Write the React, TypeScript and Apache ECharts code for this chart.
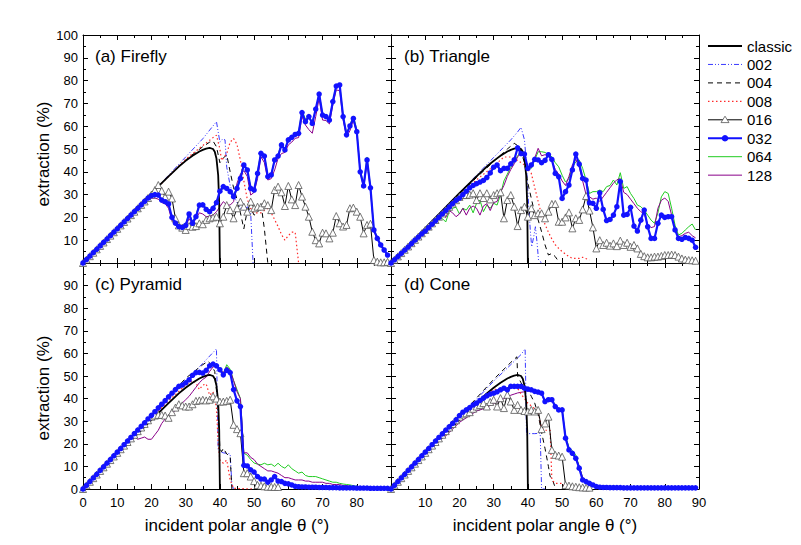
import React, { useEffect, useRef } from "react";
import * as echarts from "echarts";

const SERIES_NAMES = ["classic", "002", "004", "008", "016", "032", "064", "128"];
const DRAW_ORDER = ["064", "128", "002", "004", "008", "016", "classic", "032"];
const PANEL_TITLES = ["(a) Firefly", "(b) Triangle", "(c) Pyramid", "(d) Cone"];
const X_TITLE = "incident polar angle θ (°)";
const Y_TITLE = "extraction (%)";

// 1° sampling grid of the dense (per-degree) series
const DEG = Array.from({ length: 90 }, (_, i) => i);

// classic curve (same in every panel)
const CLASSIC_X = [0, 5, 10, 15, 20, 25, 28, 30, 32, 34, 35, 36, 37, 38, 38.5, 39, 39.5, 39.8, 40];
const CLASSIC_Y = [0, 7.6, 15.3, 23, 30.6, 38, 42.3, 44.8, 47, 48.9, 49.6, 50.2, 50.5, 50, 48.8, 45.8, 38.5, 26, 0];

// ---------- (a) Firefly ----------
const A_002_X = [0, 10, 20, 25, 30, 35, 39, 40, 40.8, 41.5, 42, 43, 44, 45, 46, 47, 48, 49, 49.7];
const A_002_Y = [0, 15.5, 30.5, 38.5, 46.5, 54.5, 62, 53, 54.4, 54, 42, 34, 30, 26.5, 24, 23.2, 24.7, 21.8, 0];
const A_004_X = [0, 10, 20, 25, 30, 35, 37, 38, 39, 40, 41, 42, 43, 44, 45, 46, 47, 48, 49, 50, 51, 52, 53, 54];
const A_004_Y = [0, 15.2, 30.5, 38, 45.2, 51, 53, 53.5, 51, 44, 46, 47.5, 40, 33, 28, 22, 15, 23, 24, 21, 22, 26, 15, 0];
const A_008_X = [0, 10, 20, 25, 30, 35, 38, 39, 40, 40.5, 42, 43, 44, 45, 46, 47, 48, 49, 50, 52, 54, 55, 56, 57, 58, 59, 60, 61, 62, 63];
const A_008_Y = [0, 15.2, 30.5, 38, 45.5, 51.5, 55, 56, 50, 45, 48, 53, 54.6, 52, 45, 36, 28, 24, 22, 22, 24, 22, 19, 16, 12.5, 10, 12, 13.5, 13.5, 0];
const A_016 = [
  0, 1.5, 3, 4.5, 6, 7.5, 9, 10.5, 12, 13.5,
  15, 16.5, 18, 19.5, 21, 22.5, 24, 25.5, 27, 28.5,
  30, 32, 34.2, 31.7, 29, 31.3, 28.3, 19.6, 16.5, 15.5,
  14.5, 16.2, 15.9, 16.2, 17.4, 17, 18.9, 19.6, 20, 20.3,
  17.4, 20.3, 25.4, 23.2, 19.6, 24, 26.9, 24.7, 22.5, 26.9,
  24, 24.7, 24.7, 26.2, 25.4, 23.2, 32, 33.5, 31, 25,
  33.8, 27.9, 25.4, 34.2, 29.1, 24.7, 20.3, 13.7, 10, 8.6,
  13.3, 13, 10.8, 13.3, 20.6, 17.4, 16, 16.7, 24, 24.3,
  22.5, 20.3, 13, 16.7, 17.2, 1.3, 0.6, 0.3, 0.3, 0.5,
];
const A_032 = [
  0, 1.5, 3, 4.5, 6, 7.5, 9, 10.5, 12, 13.5,
  15, 16.5, 18, 19.5, 21, 22.5, 24, 25.5, 27, 28.5,
  29.5, 30, 29.8, 27.6, 26.9, 25.9, 20, 17.5, 16, 15.6,
  16.5, 21.5, 17.4, 20.3, 25.4, 25.5, 23.5, 22.5, 24, 26.5,
  31.5, 33.5, 32.7, 31.3, 29.1, 32.7, 37.1, 43, 40.8, 32.7,
  32, 39.3, 48.1, 46.9, 37.9, 38.6, 45.2, 46.9, 51.8, 49.6,
  54, 55.1, 56.4, 56.9, 66, 62, 64.2, 61.2, 67.5, 74.1,
  64.9, 64.2, 62.7, 70.8, 77.6, 78.1, 64.2, 56.2, 60.1, 63.4,
  57.6, 40, 33.8, 45.2, 33, 14.5, 10.8, 7.9, 5.7, 3.5,
];
const A_064 = [
  0, 1.5, 3, 4.5, 6, 7.5, 9, 10.5, 12, 13.5,
  15, 16.5, 18, 19.5, 21, 22.5, 24, 25.5, 27, 28.5,
  29.5, 29.8, 29.5, 27, 27.5, 25.5, 19.5, 17, 16.2, 16,
  17, 22, 18, 21, 26, 26, 24, 23, 24.5, 27,
  31, 33, 33, 31.5, 29.5, 33.5, 38, 43.5, 41, 33,
  32.5, 40, 48.8, 47.5, 38.5, 39, 45.5, 47.5, 52.5, 50,
  54.5, 55.5, 56.5, 57.5, 67, 63, 64.5, 62, 67, 74.5,
  65.5, 65, 63.5, 71, 78, 78.5, 65, 57, 60.5, 64.5,
  58.5, 41, 34.5, 46.5, 33.5, 15, 11, 8, 6, 3.8,
];
const A_128 = [
  0, 1.5, 3, 4.5, 6, 7.5, 9, 10.5, 12, 13.5,
  15, 16.5, 18, 19.5, 21, 22.5, 24, 25.5, 27, 28,
  28.5, 28.5, 28, 26.5, 26, 24, 18.5, 16.5, 15.5, 15,
  16, 19.5, 17, 19.5, 22, 21.5, 20.3, 20.5, 21, 22.5,
  24.7, 26.9, 25.5, 25.4, 26.9, 35, 39, 40.5, 38, 29.8,
  31, 37, 46.6, 44, 36.4, 37, 40.8, 45.9, 48, 48.5,
  51.8, 53, 54.7, 55, 64.2, 60.5, 58.5, 56.9, 64.2, 72.2,
  62.7, 62.5, 61, 69.3, 75.9, 75.6, 63, 55.4, 58, 62.7,
  56.9, 40, 33, 44, 32, 14, 10.5, 7.5, 5.5, 3.3,
];

// ---------- (b) Triangle ----------
const B_002_X = [0, 10, 20, 25, 30, 35, 37, 38, 39, 39.5, 40.2, 40.7, 41.1, 41.7, 42.2, 42.7, 43.1, 44];
const B_002_Y = [0, 15.5, 30.8, 38.5, 46.3, 54, 57.5, 59.5, 54, 45, 26, 14.5, 7.1, 11.5, 15.9, 8.6, 1.3, 0];
const B_004_X = [0, 10, 20, 25, 30, 34, 36, 37, 38, 39, 40, 41, 42, 43, 44, 45, 46, 47, 48, 49];
const B_004_Y = [0, 15.2, 30.3, 37.5, 44.5, 50, 52.5, 51.5, 49, 44, 35, 28.3, 21.8, 18.9, 13.7, 8, 3.5, 4.2, 2.8, 0.6];
const B_008_X = [0, 10, 20, 25, 30, 33, 35, 37, 39, 40, 41, 42, 43, 44, 45, 46, 47, 48, 49, 50, 52, 53, 55, 56, 58];
const B_008_Y = [0, 14.8, 29.5, 36.5, 42.5, 46.5, 46.5, 45, 43, 41, 39.3, 33, 27, 21, 17, 13.5, 10.5, 8, 6.4, 5, 2.8, 2, 2, 2.5, 1.3];
const B_016 = [
  0, 1.45, 2.9, 4.35, 5.8, 7.25, 8.7, 10.15, 11.6, 13.05,
  14.5, 15.95, 17.4, 18.85, 20.3, 21.75, 23.2, 24.65, 26.1, 27.55,
  29, 29.8, 29.8, 30, 30.6, 27.6, 30.6, 28.5, 30.6, 27.9,
  29.8, 30.6, 31, 19.6, 27.6, 29.8, 24.7, 16.2, 23.2, 24.7,
  20.3, 24, 21, 21.8, 21.8, 19.6, 22.5, 25.9, 25.9, 18.1,
  18.1, 20, 22.2, 15.2, 19.6, 18.9, 23.5, 29.4, 23, 15.6,
  6.4, 10, 7.9, 8.9, 7.6, 8.6, 7.4, 9.8, 7.9, 8.9,
  7.1, 7.9, 6.4, 4, 3, 2.5, 2.5, 2.8, 2.8, 3.1,
  3.5, 3.5, 3.7, 3.5, 2.8, 2, 1.5, 1.3, 1.2, 1,
];
const B_032 = [
  0, 1.4, 2.8, 4.2, 5.6, 7, 8.5, 10, 11.4, 12.8,
  14, 15.5, 17, 18.5, 20, 21.5, 23, 24.5, 26, 27.5,
  28.5, 30, 31.5, 33, 34, 34.8, 35.5, 36.2, 37.5, 39.5,
  42, 43, 40.5, 41.5, 41.5, 43.5, 45.2, 50.5, 48, 47.8,
  41.5, 43, 45.5, 45.2, 44, 45, 47.5, 45.4, 39.3, 37.8,
  28.3, 31.3, 34.2, 40.8, 47.8, 43.4, 37.1, 36.4, 26.4, 26.2,
  24, 30.8, 23.5, 18.6, 19.1, 21, 24.7, 35.7, 21, 21.3,
  24.4, 16.2, 14, 18.8, 23.2, 15.9, 10.8, 10.8, 17.4, 21,
  20, 20.3, 20.3, 14.5, 10.8, 10.4, 11.2, 10.8, 10, 6.9,
];
const B_064 = [
  0, 1.4, 2.8, 4.2, 5.6, 7, 8.5, 10, 11.4, 12.8,
  14, 15.5, 17, 18.5, 20, 19.5, 18, 22.5, 24, 24.5,
  21.5, 24, 23.2, 25.4, 22, 26.2, 27.6, 22.5, 25.4, 24,
  26.2, 25.4, 30, 36, 39, 42, 44.4, 47, 48.8, 46.6,
  42.2, 41.5, 45.2, 48.8, 48.8, 48.5, 47.5, 46.6, 44, 42.2,
  38.5, 35.5, 37, 42, 44.4, 45.2, 41.5, 36.4, 30.5, 31.3,
  31.3, 32, 31.3, 33.5, 34, 36.4, 34.2, 39.6, 32.7, 33.5,
  30.5, 28.3, 25.4, 24.7, 23.2, 21, 18.8, 17.4, 22, 29,
  31.3, 30.5, 24, 16.6, 12.3, 13, 14.5, 15.9, 17.1, 14.5,
];
const B_128 = [
  0, 1.4, 2.8, 4.2, 5.6, 7, 8.5, 10, 11.4, 12.8,
  14, 15.5, 17, 18.5, 20, 21, 20, 23, 22, 20.3,
  21.5, 24, 21, 24, 25, 24, 21, 25, 26, 23,
  26.5, 27, 31, 34, 38, 41, 43.5, 46.5, 48.5, 47,
  42, 42, 46, 50.3, 47, 47.5, 47, 45, 41, 39,
  36, 34, 38, 43, 45.5, 42, 36, 30, 29, 28,
  28.5, 27, 29, 31, 33, 35, 36.5, 37, 31, 30,
  28, 26, 24, 22.5, 21.5, 17, 15.5, 16, 24, 27.5,
  28.5, 27, 21, 15, 11.5, 12, 13, 13.5, 12, 11,
];

// ---------- (c) Pyramid ----------
const C_002_X = [0, 10, 20, 30, 35, 39, 39.5, 40, 41, 42, 43, 43.5, 44];
const C_002_Y = [0, 15.9, 31.8, 47.7, 55.6, 62, 17, 16.5, 16, 15.8, 15.5, 2, 0];
const C_004_X = [0, 10, 20, 30, 35, 36.5, 37.5, 38.5, 39.5, 40, 40.5, 41, 42, 42.5, 43, 43.5];
const C_004_Y = [0, 16, 32.5, 49, 55, 56.5, 55, 52, 35, 18, 16.5, 18, 15.5, 15, 14.5, 0];
const C_008_X = [0, 10, 20, 25, 30, 32, 33, 34, 35, 36, 37, 38, 39, 39.5, 40, 41, 42, 43, 44, 50];
const C_008_Y = [0, 15.5, 31.5, 39, 46, 48, 47, 44, 46, 46.5, 41.5, 43, 36, 20, 12.8, 11.4, 12.8, 4, 0.3, 0];
const C_016 = [
  0, 1.6, 3.2, 4.8, 6.4, 8, 9.6, 11.2, 12.8, 14.4,
  16, 17.6, 19.2, 20.8, 22.4, 24, 25.6, 27.2, 28.8, 30.4,
  32, 32.5, 32.8, 32.8, 32.5, 31.5, 34, 36, 37.5, 37,
  36.5, 36.5, 37.5, 39, 39.2, 39.5, 39.2, 39.5, 41, 40,
  38.7, 38.7, 39, 39.5, 28.4, 26.5, 24.7, 7, 7, 5.5,
  3.5, 1.8, 1.5, 1.2, 1, 1, 0.9, 0.9,
];
const C_032 = [
  0, 1.6, 3.3, 4.9, 6.5, 8.2, 9.8, 11.4, 13, 14.7,
  16.3, 17.9, 19.6, 21.2, 22.8, 24.5, 26.1, 27.7, 29.3, 31,
  32.6, 34.2, 35.9, 37.5, 39.1, 40.8, 42.4, 44, 45.4, 46,
  47, 48.3, 50.3, 51.5, 51.6, 51.3, 52.5, 54.5, 55.3, 54.5,
  52.8, 50.5, 52.5, 51.5, 44, 39, 36.5, 10.5, 10.2, 8.5,
  7.5, 5.5, 4.4, 4.4, 3, 4, 5.5, 3.5, 3.3, 2.5,
  2.3, 1.8, 1.2, 1, 0.9, 0.9, 0.8, 0.8, 0.8, 0.7,
  0.7, 0.7, 0.6, 0.6, 0.6, 0.5, 0.5, 0.5, 0.5, 0.5,
  0.4, 0.4, 0.4, 0.4, 0.3, 0.3, 0.3, 0.3, 0.3, 0.3,
];
const C_064 = [
  0, 1.6, 3.3, 4.9, 6.5, 8.2, 9.8, 11.4, 13, 14.7,
  16.3, 17.9, 19.6, 21.2, 22.8, 24.5, 26.1, 27.7, 29.3, 31,
  32.6, 34.2, 35.9, 37.5, 39.1, 40.8, 42.4, 44, 45.5, 46.5,
  47.5, 49, 50.5, 51.5, 51.5, 51.5, 53, 54, 55, 54.5,
  53, 51, 55, 53, 48, 44, 40, 15.8, 15, 13,
  11.5, 11, 10.7, 11.4, 10.7, 11, 10, 11.4, 10, 9.2,
  10.7, 9, 8, 7, 7.5, 6, 5.5, 5.5, 5.5, 5,
  4.5, 4, 3.5, 3, 3, 2.5, 2.2, 2, 1.8, 1.5,
  1.2, 1, 1, 0.9, 0.8, 0.7, 0.6, 0.6, 0.5, 0.5,
];
const C_128 = [
  0, 1.6, 3.3, 4.9, 6.5, 8.2, 9.8, 11.4, 13, 14.7,
  16.3, 17.5, 19, 20.5, 22, 23, 22, 22.5, 23, 22,
  22, 24, 26, 29, 31, 32.5, 33, 35, 36.5, 38,
  39.5, 41, 43, 45, 47, 48.5, 49.5, 52, 54, 54.5,
  53, 51.5, 54, 52.5, 48, 43, 40, 16, 16, 14,
  13, 11, 10, 9, 8, 8, 7.5, 7, 6, 5,
  5, 4.5, 4, 4, 4, 3.5, 3.5, 3, 3, 3,
  3, 2.5, 2.5, 2, 2, 2, 1.5, 1.5, 1.2, 1,
  1, 0.9, 0.8, 0.7, 0.6, 0.6, 0.5, 0.5, 0.5, 0.5,
];

// ---------- (d) Cone ----------
const D_002_X = [0, 10, 20, 30, 35, 38, 39.2, 39.6, 40, 42, 43.6, 44, 45];
const D_002_Y = [0, 15.9, 31.8, 47.7, 55, 59.5, 62, 24, 24.5, 24.5, 24.7, 0, 0];
const D_004_X = [0, 10, 20, 30, 35, 36.8, 37, 38, 39, 40, 41, 42, 43, 44, 45, 46, 46.5, 47, 48];
const D_004_Y = [0, 16, 32, 48.5, 56, 58.5, 50, 47, 45, 43.9, 41, 38, 33, 25, 18, 10, 5.5, 5, 0.5];
const D_008_X = [0, 10, 20, 25, 30, 35, 37, 38, 40, 42, 43, 44, 45, 46.5, 47, 48, 50, 51];
const D_008_Y = [0, 15.5, 30.5, 38, 44, 45, 44.6, 42, 38, 35.5, 34.3, 27, 26, 26, 4, 2.5, 2.5, 0.3];
const D_016 = [
  0, 1.6, 3.2, 4.8, 6.4, 8, 9.6, 11.2, 12.8, 14.4,
  16, 17.6, 19.2, 20.8, 22.4, 24, 25.6, 27.2, 28.8, 30.4,
  32, 33, 33.5, 34, 35.5, 36.5, 37.2, 38, 36.5, 38.5,
  39.5, 36.5, 40.2, 35.8, 41.7, 38.7, 35, 37.2, 35, 34.5,
  34.3, 35, 34.3, 35, 26.5, 29, 32, 17.3, 15.1, 14.8,
  14.3, 1.8, 1.5, 1.2, 1, 0.8, 0.7, 0.6, 0.6,
];
const D_032 = [
  0, 1.6, 3.3, 4.9, 6.5, 8.2, 9.8, 11.4, 13, 14.7,
  16.3, 17.9, 19.6, 21.2, 22.8, 24.4, 26, 27.5, 29, 30.6,
  32.5, 34, 35, 36, 37.2, 38, 39.2, 40.2, 41.2, 42,
  42.4, 43, 43.9, 44.6, 43.9, 45.4, 45.4, 45.4, 45.4, 44.6,
  44.2, 43.9, 43.2, 42.9, 42.4, 38.7, 39.5, 39.5, 36.5, 35,
  35, 22.5, 17.3, 15.8, 13.6, 9.2, 4, 3.3, 2.5, 1.8,
  1.1, 0.8, 0.7, 0.7, 0.6, 0.6, 0.6, 0.6, 0.5, 0.5,
  0.5, 0.5, 0.5, 0.5, 0.5, 0.5, 0.5, 0.5, 0.5, 0.5,
  0.5, 0.5, 0.5, 0.5, 0.5, 0.5, 0.5, 0.5, 0.5, 0.5,
];
const D_064 = [
  0, 1.6, 3.3, 4.9, 6.5, 8.2, 9.8, 11.4, 13, 14.7,
  16.3, 17.9, 19.6, 21.2, 22.8, 24.4, 26, 27.5, 29, 30.6,
  32.5, 34, 35, 36, 37.2, 38, 39.2, 40.2, 41.2, 42,
  42.6, 43.2, 44, 44.6, 44.5, 45.4, 45.5, 45.5, 45.5, 45,
  44.5, 44, 43.5, 43, 42.5, 39, 39.8, 39.8, 37, 35.5,
  35.3, 23.5, 18.5, 17, 15, 10, 5, 3.8, 3, 2.2,
  1.6, 1.2, 1, 1, 1.2, 1.3, 1.1, 1, 0.9, 0.9,
  0.8, 0.8, 0.8, 0.8, 0.7, 0.7, 0.7, 0.7, 0.7, 0.6,
  0.6, 0.6, 0.6, 0.6, 0.6, 0.6, 0.5, 0.5, 0.5, 0.5,
];
const D_128 = [
  0, 1.6, 3.2, 4.8, 6.4, 8, 9.5, 11, 12.5, 14,
  15.5, 17, 18.5, 19.5, 21, 22.5, 23.5, 25, 26.5, 28,
  29.5, 30.5, 31.5, 32.5, 33.5, 34.5, 35, 35.5, 36, 37,
  37.8, 38.5, 39.2, 40, 40.5, 41.5, 42, 42.5, 42.8, 43,
  43.5, 43.2, 43, 42.5, 42, 38.5, 39.3, 39.3, 36.5, 35,
  34.8, 22.5, 18, 16, 14, 10, 5, 4, 3, 2,
  1.5, 1, 0.8, 0.7, 0.7, 0.6, 0.6, 0.6, 0.5, 0.5,
  0.5, 0.5, 0.5, 0.5, 0.5, 0.5, 0.5, 0.5, 0.5, 0.5,
  0.5, 0.5, 0.5, 0.5, 0.5, 0.5, 0.5, 0.5, 0.5, 0.5,
];

type XY = [number[], number[]];
const PANEL_DATA: Record<string, XY>[] = [
  {
    classic: [CLASSIC_X, CLASSIC_Y], "002": [A_002_X, A_002_Y], "004": [A_004_X, A_004_Y],
    "008": [A_008_X, A_008_Y], "016": [DEG, A_016], "032": [DEG, A_032], "064": [DEG, A_064], "128": [DEG, A_128],
  },
  {
    classic: [CLASSIC_X, CLASSIC_Y], "002": [B_002_X, B_002_Y], "004": [B_004_X, B_004_Y],
    "008": [B_008_X, B_008_Y], "016": [DEG, B_016], "032": [DEG, B_032], "064": [DEG, B_064], "128": [DEG, B_128],
  },
  {
    classic: [CLASSIC_X, CLASSIC_Y], "002": [C_002_X, C_002_Y], "004": [C_004_X, C_004_Y],
    "008": [C_008_X, C_008_Y], "016": [DEG, C_016], "032": [DEG, C_032], "064": [DEG, C_064], "128": [DEG, C_128],
  },
  {
    classic: [CLASSIC_X, CLASSIC_Y], "002": [D_002_X, D_002_Y], "004": [D_004_X, D_004_Y],
    "008": [D_008_X, D_008_Y], "016": [DEG, D_016], "032": [DEG, D_032], "064": [DEG, D_064], "128": [DEG, D_128],
  },
];

const FONT = "'Liberation Sans', Arial, sans-serif";

const STYLES: Record<string, any> = {
  classic: { line: "#000000", width: 1.8, type: "solid" },
  "002": { line: "#3a3aff", width: 1, type: [5, 2, 1, 2, 1, 2] },
  "004": { line: "#000000", width: 1, type: [5, 4] },
  "008": { line: "#ff2a2a", width: 1.2, type: [1.5, 2.5] },
  "016": { line: "#000000", width: 1, type: "solid", symbol: "triangle", size: 7, fill: "#ffffff", border: "#555555" },
  "032": { line: "#1212ff", width: 2.2, type: "solid", symbol: "circle", size: 5.5, fill: "#1212ff", border: "#1212ff" },
  "064": { line: "#22cc22", width: 1, type: "solid" },
  "128": { line: "#8a008a", width: 1, type: "solid" },
};

const GRIDS = [
  { left: 83, top: 35, width: 308, height: 228 },
  { left: 391, top: 35, width: 308, height: 228 },
  { left: 83, top: 263, width: 308, height: 226 },
  { left: 391, top: 263, width: 308, height: 226 },
];

function buildOption() {
  const xAxis: any[] = [];
  const yAxis: any[] = [];
  const axisLine = { show: true, onZero: false, lineStyle: { color: "#000", width: 1 } };
  const tick = { show: true, inside: true, length: 5, lineStyle: { color: "#000" } };
  const minor = { show: true, splitNumber: 2, length: 3, lineStyle: { color: "#000" } };
  GRIDS.forEach((_, i) => {
    const bottomRow = i >= 2;
    const leftCol = i % 2 === 0;
    xAxis.push({
      type: "value", gridIndex: i, min: 0, max: 90, interval: 10, position: "bottom",
      axisLine, axisTick: tick, minorTick: minor, splitLine: { show: false },
      axisLabel: {
        show: bottomRow, color: "#000", fontSize: 13, fontFamily: FONT, margin: 7,
        showMinLabel: i === 3 ? false : true, showMaxLabel: i === 2 ? false : true,
      },
    });
    xAxis.push({
      type: "value", gridIndex: i, min: 0, max: 90, interval: 10, position: "top",
      axisLine, axisTick: tick, minorTick: minor, splitLine: { show: false }, axisLabel: { show: false },
    });
    yAxis.push({
      type: "value", gridIndex: i, min: 0, max: 100, interval: 10, position: "left",
      axisLine, axisTick: tick, minorTick: minor, splitLine: { show: false },
      axisLabel: {
        show: leftCol, color: "#000", fontSize: 13, fontFamily: FONT, margin: 5,
        showMinLabel: i === 0 ? false : true, showMaxLabel: i === 2 ? false : true,
      },
    });
    yAxis.push({
      type: "value", gridIndex: i, min: 0, max: 100, interval: 10, position: "right",
      axisLine, axisTick: tick, minorTick: minor, splitLine: { show: false }, axisLabel: { show: false },
    });
  });

  const series: any[] = [];
  PANEL_DATA.forEach((panel, p) => {
    DRAW_ORDER.forEach((name) => {
      const st = STYLES[name];
      const [xs, ys] = panel[name];
      series.push({
        type: "line",
        name,
        xAxisIndex: p * 2,
        yAxisIndex: p * 2,
        data: ys.map((y, k) => [xs[k], y]),
        symbol: st.symbol || "none",
        showSymbol: !!st.symbol,
        symbolSize: st.size || 0,
        lineStyle: { color: st.line, width: st.width, type: st.type },
        itemStyle: st.symbol
          ? { color: st.fill, borderColor: st.border, borderWidth: name === "016" ? 0.8 : 0 }
          : { color: st.line },
        emphasis: { disabled: true },
        silent: true,
        clip: true,
        z: name === "032" ? 5 : 3,
      });
    });
  });

  const graphic: any[] = [];
  const titlePos = [
    [95, 48], [404, 48], [95, 276], [404, 276],
  ];
  PANEL_TITLES.forEach((t, i) => {
    graphic.push({
      type: "text", left: titlePos[i][0], top: titlePos[i][1],
      style: { text: t, fontSize: 17, fontFamily: FONT, fill: "#000" },
    });
  });
  [154, 388].forEach((cy) => {
    graphic.push({
      type: "text", x: 43, y: cy, rotation: Math.PI / 2,
      style: { text: Y_TITLE, fontSize: 17, fontFamily: FONT, fill: "#000", align: "center", verticalAlign: "middle" },
    });
  });
  [237, 545].forEach((cx) => {
    graphic.push({
      type: "text", x: cx, y: 525,
      style: { text: X_TITLE, fontSize: 17, fontFamily: FONT, fill: "#000", align: "center", verticalAlign: "middle" },
    });
  });

  // legend (drawn by hand so that each sample keeps its own dash pattern and marker)
  SERIES_NAMES.forEach((name, i) => {
    const st = STYLES[name];
    const y = 46 + i * 18.45;
    graphic.push({
      type: "line",
      shape: { x1: 708, y1: y, x2: 742, y2: y },
      style: { stroke: st.line, lineWidth: st.width, lineDash: Array.isArray(st.type) ? st.type : null },
    });
    if (name === "016") {
      graphic.push({
        type: "polygon",
        shape: { points: [[725, y - 3.6], [729, y + 2.8], [721, y + 2.8]] },
        style: { fill: "#ffffff", stroke: "#555555", lineWidth: 0.8 },
      });
    }
    if (name === "032") {
      graphic.push({
        type: "circle",
        shape: { cx: 725, cy: y, r: 3.3 },
        style: { fill: st.fill },
      });
    }
    graphic.push({
      type: "text", x: 747, y,
      style: { text: name, fontSize: 15, fontFamily: FONT, fill: "#000", align: "left", verticalAlign: "middle" },
    });
  });

  return {
    animation: false,
    backgroundColor: "#ffffff",
    grid: GRIDS.map((g) => ({ ...g, containLabel: false, outerBoundsMode: "none", show: false })),
    xAxis,
    yAxis,
    series,
    graphic,
  };
}

export default function App() {
  const ref = useRef<HTMLDivElement>(null);
  useEffect(() => {
    if (!ref.current) return;
    const chart = echarts.init(ref.current, undefined, { renderer: "svg" });
    chart.setOption(buildOption() as any);
    return () => chart.dispose();
  }, []);
  return (
    <div
      ref={ref}
      style={{ position: "absolute", left: 0, top: 0, width: 801, height: 545, background: "#fff" }}
    />
  );
}
